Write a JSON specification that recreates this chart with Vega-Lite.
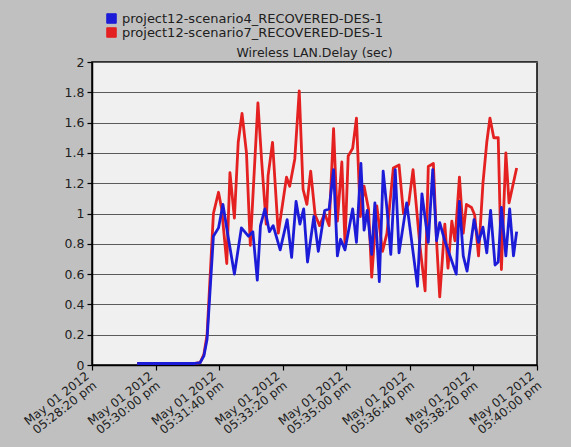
{
  "$schema": "https://vega.github.io/schema/vega-lite/v6.json",
  "autosize": "none",
  "width": 445,
  "height": 303,
  "padding": {"left": 92, "top": 62, "right": 34, "bottom": 82},
  "background": "#c0c0c0",
  "config": {
    "font": "DejaVu Sans",
    "view": {"fill": "#f0f0f0", "stroke": "#000000", "strokeWidth": 1.5}
  },
  "title": {"text": "Wireless LAN.Delay (sec)", "anchor": "middle", "fontSize": 12.5, "fontWeight": "normal", "color": "#202020", "offset": 3, "dy": 50},
  "data": {
    "values": [
      {"series": "project12-scenario7_RECOVERED-DES-1", "t": "2012-05-01T17:29:31Z", "v": 0.01},
      {"series": "project12-scenario7_RECOVERED-DES-1", "t": "2012-05-01T17:29:51Z", "v": 0.01},
      {"series": "project12-scenario7_RECOVERED-DES-1", "t": "2012-05-01T17:30:15Z", "v": 0.01},
      {"series": "project12-scenario7_RECOVERED-DES-1", "t": "2012-05-01T17:30:38Z", "v": 0.01},
      {"series": "project12-scenario7_RECOVERED-DES-1", "t": "2012-05-01T17:31:02Z", "v": 0.01},
      {"series": "project12-scenario7_RECOVERED-DES-1", "t": "2012-05-01T17:31:10Z", "v": 0.015},
      {"series": "project12-scenario7_RECOVERED-DES-1", "t": "2012-05-01T17:31:16Z", "v": 0.07},
      {"series": "project12-scenario7_RECOVERED-DES-1", "t": "2012-05-01T17:31:21Z", "v": 0.2},
      {"series": "project12-scenario7_RECOVERED-DES-1", "t": "2012-05-01T17:31:31Z", "v": 1.0},
      {"series": "project12-scenario7_RECOVERED-DES-1", "t": "2012-05-01T17:31:39Z", "v": 1.14},
      {"series": "project12-scenario7_RECOVERED-DES-1", "t": "2012-05-01T17:31:44Z", "v": 1.03},
      {"series": "project12-scenario7_RECOVERED-DES-1", "t": "2012-05-01T17:31:52Z", "v": 0.67},
      {"series": "project12-scenario7_RECOVERED-DES-1", "t": "2012-05-01T17:31:57Z", "v": 1.27},
      {"series": "project12-scenario7_RECOVERED-DES-1", "t": "2012-05-01T17:32:04Z", "v": 0.97},
      {"series": "project12-scenario7_RECOVERED-DES-1", "t": "2012-05-01T17:32:10Z", "v": 1.47},
      {"series": "project12-scenario7_RECOVERED-DES-1", "t": "2012-05-01T17:32:16Z", "v": 1.66},
      {"series": "project12-scenario7_RECOVERED-DES-1", "t": "2012-05-01T17:32:23Z", "v": 1.40},
      {"series": "project12-scenario7_RECOVERED-DES-1", "t": "2012-05-01T17:32:29Z", "v": 0.79},
      {"series": "project12-scenario7_RECOVERED-DES-1", "t": "2012-05-01T17:32:41Z", "v": 1.73},
      {"series": "project12-scenario7_RECOVERED-DES-1", "t": "2012-05-01T17:32:47Z", "v": 1.34},
      {"series": "project12-scenario7_RECOVERED-DES-1", "t": "2012-05-01T17:32:54Z", "v": 0.93},
      {"series": "project12-scenario7_RECOVERED-DES-1", "t": "2012-05-01T17:32:57Z", "v": 1.25},
      {"series": "project12-scenario7_RECOVERED-DES-1", "t": "2012-05-01T17:33:04Z", "v": 1.47},
      {"series": "project12-scenario7_RECOVERED-DES-1", "t": "2012-05-01T17:33:13Z", "v": 0.87},
      {"series": "project12-scenario7_RECOVERED-DES-1", "t": "2012-05-01T17:33:26Z", "v": 1.24},
      {"series": "project12-scenario7_RECOVERED-DES-1", "t": "2012-05-01T17:33:31Z", "v": 1.18},
      {"series": "project12-scenario7_RECOVERED-DES-1", "t": "2012-05-01T17:33:39Z", "v": 1.36},
      {"series": "project12-scenario7_RECOVERED-DES-1", "t": "2012-05-01T17:33:46Z", "v": 1.81},
      {"series": "project12-scenario7_RECOVERED-DES-1", "t": "2012-05-01T17:33:52Z", "v": 1.16},
      {"series": "project12-scenario7_RECOVERED-DES-1", "t": "2012-05-01T17:33:58Z", "v": 1.06},
      {"series": "project12-scenario7_RECOVERED-DES-1", "t": "2012-05-01T17:34:04Z", "v": 1.28},
      {"series": "project12-scenario7_RECOVERED-DES-1", "t": "2012-05-01T17:34:11Z", "v": 0.99},
      {"series": "project12-scenario7_RECOVERED-DES-1", "t": "2012-05-01T17:34:18Z", "v": 0.92},
      {"series": "project12-scenario7_RECOVERED-DES-1", "t": "2012-05-01T17:34:26Z", "v": 1.0},
      {"series": "project12-scenario7_RECOVERED-DES-1", "t": "2012-05-01T17:34:33Z", "v": 0.92},
      {"series": "project12-scenario7_RECOVERED-DES-1", "t": "2012-05-01T17:34:40Z", "v": 1.56},
      {"series": "project12-scenario7_RECOVERED-DES-1", "t": "2012-05-01T17:34:46Z", "v": 0.95},
      {"series": "project12-scenario7_RECOVERED-DES-1", "t": "2012-05-01T17:34:53Z", "v": 1.34},
      {"series": "project12-scenario7_RECOVERED-DES-1", "t": "2012-05-01T17:34:58Z", "v": 0.80},
      {"series": "project12-scenario7_RECOVERED-DES-1", "t": "2012-05-01T17:35:03Z", "v": 1.38},
      {"series": "project12-scenario7_RECOVERED-DES-1", "t": "2012-05-01T17:35:10Z", "v": 1.43},
      {"series": "project12-scenario7_RECOVERED-DES-1", "t": "2012-05-01T17:35:16Z", "v": 1.63},
      {"series": "project12-scenario7_RECOVERED-DES-1", "t": "2012-05-01T17:35:22Z", "v": 0.98},
      {"series": "project12-scenario7_RECOVERED-DES-1", "t": "2012-05-01T17:35:28Z", "v": 1.18},
      {"series": "project12-scenario7_RECOVERED-DES-1", "t": "2012-05-01T17:35:35Z", "v": 1.03},
      {"series": "project12-scenario7_RECOVERED-DES-1", "t": "2012-05-01T17:35:40Z", "v": 0.58},
      {"series": "project12-scenario7_RECOVERED-DES-1", "t": "2012-05-01T17:35:48Z", "v": 1.05},
      {"series": "project12-scenario7_RECOVERED-DES-1", "t": "2012-05-01T17:35:57Z", "v": 0.75},
      {"series": "project12-scenario7_RECOVERED-DES-1", "t": "2012-05-01T17:36:04Z", "v": 0.87},
      {"series": "project12-scenario7_RECOVERED-DES-1", "t": "2012-05-01T17:36:14Z", "v": 1.30},
      {"series": "project12-scenario7_RECOVERED-DES-1", "t": "2012-05-01T17:36:23Z", "v": 1.32},
      {"series": "project12-scenario7_RECOVERED-DES-1", "t": "2012-05-01T17:36:30Z", "v": 1.0},
      {"series": "project12-scenario7_RECOVERED-DES-1", "t": "2012-05-01T17:36:38Z", "v": 1.06},
      {"series": "project12-scenario7_RECOVERED-DES-1", "t": "2012-05-01T17:36:45Z", "v": 1.29},
      {"series": "project12-scenario7_RECOVERED-DES-1", "t": "2012-05-01T17:36:56Z", "v": 0.78},
      {"series": "project12-scenario7_RECOVERED-DES-1", "t": "2012-05-01T17:37:04Z", "v": 0.49},
      {"series": "project12-scenario7_RECOVERED-DES-1", "t": "2012-05-01T17:37:09Z", "v": 1.31},
      {"series": "project12-scenario7_RECOVERED-DES-1", "t": "2012-05-01T17:37:17Z", "v": 1.33},
      {"series": "project12-scenario7_RECOVERED-DES-1", "t": "2012-05-01T17:37:22Z", "v": 0.82},
      {"series": "project12-scenario7_RECOVERED-DES-1", "t": "2012-05-01T17:37:27Z", "v": 0.45},
      {"series": "project12-scenario7_RECOVERED-DES-1", "t": "2012-05-01T17:37:35Z", "v": 0.93},
      {"series": "project12-scenario7_RECOVERED-DES-1", "t": "2012-05-01T17:37:40Z", "v": 0.64},
      {"series": "project12-scenario7_RECOVERED-DES-1", "t": "2012-05-01T17:37:46Z", "v": 0.95},
      {"series": "project12-scenario7_RECOVERED-DES-1", "t": "2012-05-01T17:37:51Z", "v": 0.82},
      {"series": "project12-scenario7_RECOVERED-DES-1", "t": "2012-05-01T17:37:58Z", "v": 1.24},
      {"series": "project12-scenario7_RECOVERED-DES-1", "t": "2012-05-01T17:38:04Z", "v": 0.87},
      {"series": "project12-scenario7_RECOVERED-DES-1", "t": "2012-05-01T17:38:09Z", "v": 1.06},
      {"series": "project12-scenario7_RECOVERED-DES-1", "t": "2012-05-01T17:38:17Z", "v": 1.04},
      {"series": "project12-scenario7_RECOVERED-DES-1", "t": "2012-05-01T17:38:22Z", "v": 0.99},
      {"series": "project12-scenario7_RECOVERED-DES-1", "t": "2012-05-01T17:38:28Z", "v": 0.72},
      {"series": "project12-scenario7_RECOVERED-DES-1", "t": "2012-05-01T17:38:35Z", "v": 1.20},
      {"series": "project12-scenario7_RECOVERED-DES-1", "t": "2012-05-01T17:38:41Z", "v": 1.47},
      {"series": "project12-scenario7_RECOVERED-DES-1", "t": "2012-05-01T17:38:46Z", "v": 1.63},
      {"series": "project12-scenario7_RECOVERED-DES-1", "t": "2012-05-01T17:38:52Z", "v": 1.50},
      {"series": "project12-scenario7_RECOVERED-DES-1", "t": "2012-05-01T17:38:59Z", "v": 1.50},
      {"series": "project12-scenario7_RECOVERED-DES-1", "t": "2012-05-01T17:39:04Z", "v": 0.63},
      {"series": "project12-scenario7_RECOVERED-DES-1", "t": "2012-05-01T17:39:11Z", "v": 1.40},
      {"series": "project12-scenario7_RECOVERED-DES-1", "t": "2012-05-01T17:39:16Z", "v": 1.07},
      {"series": "project12-scenario7_RECOVERED-DES-1", "t": "2012-05-01T17:39:28Z", "v": 1.30},
      {"series": "project12-scenario4_RECOVERED-DES-1", "t": "2012-05-01T17:29:31Z", "v": 0.01},
      {"series": "project12-scenario4_RECOVERED-DES-1", "t": "2012-05-01T17:29:51Z", "v": 0.01},
      {"series": "project12-scenario4_RECOVERED-DES-1", "t": "2012-05-01T17:30:15Z", "v": 0.01},
      {"series": "project12-scenario4_RECOVERED-DES-1", "t": "2012-05-01T17:30:38Z", "v": 0.01},
      {"series": "project12-scenario4_RECOVERED-DES-1", "t": "2012-05-01T17:31:02Z", "v": 0.01},
      {"series": "project12-scenario4_RECOVERED-DES-1", "t": "2012-05-01T17:31:10Z", "v": 0.015},
      {"series": "project12-scenario4_RECOVERED-DES-1", "t": "2012-05-01T17:31:16Z", "v": 0.06},
      {"series": "project12-scenario4_RECOVERED-DES-1", "t": "2012-05-01T17:31:21Z", "v": 0.17},
      {"series": "project12-scenario4_RECOVERED-DES-1", "t": "2012-05-01T17:31:31Z", "v": 0.85},
      {"series": "project12-scenario4_RECOVERED-DES-1", "t": "2012-05-01T17:31:39Z", "v": 0.905},
      {"series": "project12-scenario4_RECOVERED-DES-1", "t": "2012-05-01T17:31:46Z", "v": 1.06},
      {"series": "project12-scenario4_RECOVERED-DES-1", "t": "2012-05-01T17:31:54Z", "v": 0.85},
      {"series": "project12-scenario4_RECOVERED-DES-1", "t": "2012-05-01T17:32:04Z", "v": 0.60},
      {"series": "project12-scenario4_RECOVERED-DES-1", "t": "2012-05-01T17:32:15Z", "v": 0.905},
      {"series": "project12-scenario4_RECOVERED-DES-1", "t": "2012-05-01T17:32:26Z", "v": 0.85},
      {"series": "project12-scenario4_RECOVERED-DES-1", "t": "2012-05-01T17:32:33Z", "v": 0.88},
      {"series": "project12-scenario4_RECOVERED-DES-1", "t": "2012-05-01T17:32:40Z", "v": 0.56},
      {"series": "project12-scenario4_RECOVERED-DES-1", "t": "2012-05-01T17:32:45Z", "v": 0.92},
      {"series": "project12-scenario4_RECOVERED-DES-1", "t": "2012-05-01T17:32:52Z", "v": 1.03},
      {"series": "project12-scenario4_RECOVERED-DES-1", "t": "2012-05-01T17:32:59Z", "v": 0.88},
      {"series": "project12-scenario4_RECOVERED-DES-1", "t": "2012-05-01T17:33:05Z", "v": 0.92},
      {"series": "project12-scenario4_RECOVERED-DES-1", "t": "2012-05-01T17:33:16Z", "v": 0.76},
      {"series": "project12-scenario4_RECOVERED-DES-1", "t": "2012-05-01T17:33:27Z", "v": 0.96},
      {"series": "project12-scenario4_RECOVERED-DES-1", "t": "2012-05-01T17:33:34Z", "v": 0.71},
      {"series": "project12-scenario4_RECOVERED-DES-1", "t": "2012-05-01T17:33:41Z", "v": 1.08},
      {"series": "project12-scenario4_RECOVERED-DES-1", "t": "2012-05-01T17:33:47Z", "v": 0.93},
      {"series": "project12-scenario4_RECOVERED-DES-1", "t": "2012-05-01T17:33:53Z", "v": 1.03},
      {"series": "project12-scenario4_RECOVERED-DES-1", "t": "2012-05-01T17:33:59Z", "v": 0.68},
      {"series": "project12-scenario4_RECOVERED-DES-1", "t": "2012-05-01T17:34:09Z", "v": 0.98},
      {"series": "project12-scenario4_RECOVERED-DES-1", "t": "2012-05-01T17:34:16Z", "v": 0.75},
      {"series": "project12-scenario4_RECOVERED-DES-1", "t": "2012-05-01T17:34:26Z", "v": 1.02},
      {"series": "project12-scenario4_RECOVERED-DES-1", "t": "2012-05-01T17:34:33Z", "v": 1.03},
      {"series": "project12-scenario4_RECOVERED-DES-1", "t": "2012-05-01T17:34:40Z", "v": 1.29},
      {"series": "project12-scenario4_RECOVERED-DES-1", "t": "2012-05-01T17:34:46Z", "v": 0.72},
      {"series": "project12-scenario4_RECOVERED-DES-1", "t": "2012-05-01T17:34:51Z", "v": 0.83},
      {"series": "project12-scenario4_RECOVERED-DES-1", "t": "2012-05-01T17:34:58Z", "v": 0.76},
      {"series": "project12-scenario4_RECOVERED-DES-1", "t": "2012-05-01T17:35:10Z", "v": 1.03},
      {"series": "project12-scenario4_RECOVERED-DES-1", "t": "2012-05-01T17:35:16Z", "v": 0.81},
      {"series": "project12-scenario4_RECOVERED-DES-1", "t": "2012-05-01T17:35:23Z", "v": 1.33},
      {"series": "project12-scenario4_RECOVERED-DES-1", "t": "2012-05-01T17:35:28Z", "v": 0.89},
      {"series": "project12-scenario4_RECOVERED-DES-1", "t": "2012-05-01T17:35:33Z", "v": 1.02},
      {"series": "project12-scenario4_RECOVERED-DES-1", "t": "2012-05-01T17:35:40Z", "v": 0.73},
      {"series": "project12-scenario4_RECOVERED-DES-1", "t": "2012-05-01T17:35:45Z", "v": 1.07},
      {"series": "project12-scenario4_RECOVERED-DES-1", "t": "2012-05-01T17:35:52Z", "v": 0.55},
      {"series": "project12-scenario4_RECOVERED-DES-1", "t": "2012-05-01T17:35:58Z", "v": 1.28},
      {"series": "project12-scenario4_RECOVERED-DES-1", "t": "2012-05-01T17:36:04Z", "v": 1.03},
      {"series": "project12-scenario4_RECOVERED-DES-1", "t": "2012-05-01T17:36:10Z", "v": 0.73},
      {"series": "project12-scenario4_RECOVERED-DES-1", "t": "2012-05-01T17:36:17Z", "v": 1.29},
      {"series": "project12-scenario4_RECOVERED-DES-1", "t": "2012-05-01T17:36:23Z", "v": 0.74},
      {"series": "project12-scenario4_RECOVERED-DES-1", "t": "2012-05-01T17:36:35Z", "v": 1.07},
      {"series": "project12-scenario4_RECOVERED-DES-1", "t": "2012-05-01T17:36:52Z", "v": 0.52},
      {"series": "project12-scenario4_RECOVERED-DES-1", "t": "2012-05-01T17:36:59Z", "v": 1.13},
      {"series": "project12-scenario4_RECOVERED-DES-1", "t": "2012-05-01T17:37:09Z", "v": 0.81},
      {"series": "project12-scenario4_RECOVERED-DES-1", "t": "2012-05-01T17:37:16Z", "v": 1.29},
      {"series": "project12-scenario4_RECOVERED-DES-1", "t": "2012-05-01T17:37:22Z", "v": 0.82},
      {"series": "project12-scenario4_RECOVERED-DES-1", "t": "2012-05-01T17:37:27Z", "v": 0.94},
      {"series": "project12-scenario4_RECOVERED-DES-1", "t": "2012-05-01T17:37:35Z", "v": 0.82},
      {"series": "project12-scenario4_RECOVERED-DES-1", "t": "2012-05-01T17:37:53Z", "v": 0.60},
      {"series": "project12-scenario4_RECOVERED-DES-1", "t": "2012-05-01T17:37:58Z", "v": 1.08},
      {"series": "project12-scenario4_RECOVERED-DES-1", "t": "2012-05-01T17:38:04Z", "v": 0.72},
      {"series": "project12-scenario4_RECOVERED-DES-1", "t": "2012-05-01T17:38:10Z", "v": 0.62},
      {"series": "project12-scenario4_RECOVERED-DES-1", "t": "2012-05-01T17:38:21Z", "v": 0.96},
      {"series": "project12-scenario4_RECOVERED-DES-1", "t": "2012-05-01T17:38:28Z", "v": 0.81},
      {"series": "project12-scenario4_RECOVERED-DES-1", "t": "2012-05-01T17:38:35Z", "v": 0.91},
      {"series": "project12-scenario4_RECOVERED-DES-1", "t": "2012-05-01T17:38:41Z", "v": 0.74},
      {"series": "project12-scenario4_RECOVERED-DES-1", "t": "2012-05-01T17:38:47Z", "v": 1.02},
      {"series": "project12-scenario4_RECOVERED-DES-1", "t": "2012-05-01T17:38:54Z", "v": 0.66},
      {"series": "project12-scenario4_RECOVERED-DES-1", "t": "2012-05-01T17:38:59Z", "v": 0.68},
      {"series": "project12-scenario4_RECOVERED-DES-1", "t": "2012-05-01T17:39:04Z", "v": 1.04},
      {"series": "project12-scenario4_RECOVERED-DES-1", "t": "2012-05-01T17:39:11Z", "v": 0.72},
      {"series": "project12-scenario4_RECOVERED-DES-1", "t": "2012-05-01T17:39:17Z", "v": 1.03},
      {"series": "project12-scenario4_RECOVERED-DES-1", "t": "2012-05-01T17:39:23Z", "v": 0.72},
      {"series": "project12-scenario4_RECOVERED-DES-1", "t": "2012-05-01T17:39:28Z", "v": 0.88}
    ]
  },
  "mark": {"type": "line", "strokeWidth": 2.8, "strokeJoin": "round", "clip": true},
  "encoding": {
    "x": {
      "field": "t",
      "type": "temporal",
      "scale": {
        "type": "utc",
        "domain": [
          {"year": 2012, "month": 5, "date": 1, "hours": 17, "minutes": 28, "seconds": 20, "utc": true},
          {"year": 2012, "month": 5, "date": 1, "hours": 17, "minutes": 40, "seconds": 0, "utc": true}
        ]
      },
      "axis": {
        "title": null,
        "grid": false,
        "values": [
          {"year": 2012, "month": 5, "date": 1, "hours": 17, "minutes": 28, "seconds": 20, "utc": true},
          {"year": 2012, "month": 5, "date": 1, "hours": 17, "minutes": 30, "seconds": 0, "utc": true},
          {"year": 2012, "month": 5, "date": 1, "hours": 17, "minutes": 31, "seconds": 40, "utc": true},
          {"year": 2012, "month": 5, "date": 1, "hours": 17, "minutes": 33, "seconds": 20, "utc": true},
          {"year": 2012, "month": 5, "date": 1, "hours": 17, "minutes": 35, "seconds": 0, "utc": true},
          {"year": 2012, "month": 5, "date": 1, "hours": 17, "minutes": 36, "seconds": 40, "utc": true},
          {"year": 2012, "month": 5, "date": 1, "hours": 17, "minutes": 38, "seconds": 20, "utc": true},
          {"year": 2012, "month": 5, "date": 1, "hours": 17, "minutes": 40, "seconds": 0, "utc": true}
        ],
        "labelExpr": "['May 01 2012', utcFormat(datum.value, '%I:%M:%S') + ' pm']",
        "labelAngle": -38,
        "labelAlign": "right",
        "labelBaseline": "middle",
        "labelFontSize": 12,
        "labelColor": "#202020",
        "labelLineHeight": 12,
        "labelPadding": 4,
        "labelOffset": -5,
        "labelOverlap": false,
        "labelFlush": false,
        "domainColor": "#000000",
        "domainWidth": 1.5,
        "tickColor": "#000000",
        "tickSize": 5,
        "tickWidth": 1.2
      }
    },
    "y": {
      "field": "v",
      "type": "quantitative",
      "scale": {"domain": [0, 2], "nice": false},
      "axis": {
        "title": null,
        "values": [0, 0.2, 0.4, 0.6, 0.8, 1, 1.2, 1.4, 1.6, 1.8, 2],
        "format": ".1~f",
        "labelFontSize": 12.5,
        "labelColor": "#202020",
        "labelPadding": 3,
        "grid": true,
        "gridColor": "#5a5a5a",
        "gridWidth": 1,
        "domainColor": "#000000",
        "domainWidth": 1.5,
        "tickColor": "#000000",
        "tickSize": 5,
        "tickWidth": 1.2
      }
    },
    "color": {
      "field": "series",
      "type": "nominal",
      "scale": {
        "domain": ["project12-scenario4_RECOVERED-DES-1", "project12-scenario7_RECOVERED-DES-1"],
        "range": ["#1c1cd8", "#e42020"]
      },
      "legend": {
        "title": null,
        "orient": "none",
        "legendX": 13,
        "legendY": -50,
        "symbolType": "square",
        "symbolSize": 90,
        "symbolStrokeWidth": 1,
        "labelFontSize": 13,
        "labelLimit": 0,
        "labelColor": "#202020",
        "labelOffset": 4,
        "rowPadding": -2,
        "encode": {
          "symbols": {"update": {"fill": {"field": "value", "scale": "color"}, "stroke": {"value": "#202040"}, "fillOpacity": {"value": 1}}}
        }
      }
    }
  }
}
